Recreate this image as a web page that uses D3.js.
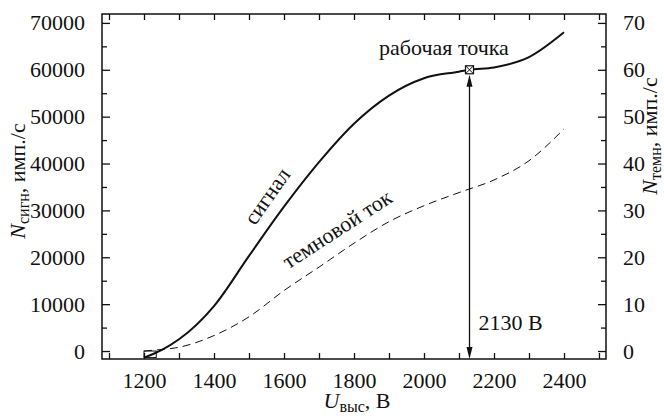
<!DOCTYPE html>
<html>
<head>
<meta charset="utf-8">
<script src="https://cdn.jsdelivr.net/npm/d3@7"></script>
<style>
  body { margin: 0; background: #fff; }
  svg, svg text { font-family: "Liberation Serif", "Tinos", "Times New Roman", "DejaVu Serif", serif; }
</style>
</head>
<body>
<div id="chart"></div>
<script>
// Сигнал (левая ось), имп./с
const sigU = [1200, 1250, 1300, 1400, 1500, 1600, 1700, 1800, 1900, 2000, 2100, 2130, 2200, 2300, 2400];
const sigN = [-1400, 200, 2500, 9600, 20300, 30800, 40300, 48500, 54500, 58200, 59600, 60000, 60500, 62700, 68000];

// Темновой ток (правая ось), имп./с
const darkU = [1200, 1230, 1300, 1400, 1500, 1600, 1700, 1800, 1900, 2000, 2100, 2200, 2300, 2400];
const darkN = [0, 0.2, 0.8, 3.3, 7.3, 12.9, 17.9, 23.0, 27.6, 31.0, 33.8, 36.5, 40.6, 47.4];

// Рабочая точка
const workU = 2130;
const workN = 60000;

const xTicks = d3.range(1100, 2501, 100);
const xLabels = [1200, 1400, 1600, 1800, 2000, 2200, 2400];
const yTicks = d3.range(0, 70001, 5000);
const yLabels = d3.range(0, 70001, 10000);
const y2Labels = d3.range(0, 71, 10);

const width = 664, height = 418;
const margin = { top: 14, right: 58, bottom: 59, left: 102 };
const serif = '"Liberation Serif", "Tinos", "Times New Roman", "DejaVu Serif", serif';

const svg = d3.select('#chart')
    .append('svg')
    .attr('width', width)
    .attr('height', height);

const x = d3.scaleLinear()
    .domain([1080, 2520])
    .range([margin.left, width - margin.right]);

const y = d3.scaleLinear()
    .domain([-1700, 71900])
    .range([height - margin.bottom, margin.top]);

const y2 = d3.scaleLinear()
    .domain([-1.7, 71.9])
    .range([height - margin.bottom, margin.top]);

const fontSize = 22;

// Оси
const styleAxis = g => {
    g.attr('font-family', null).attr('font-size', null);
    g.select('.domain').remove();
    g.selectAll('line').attr('stroke', '#111').attr('stroke-width', 1.3);
    g.selectAll('text').attr('fill', '#111').style('font-size', fontSize + 'px')
        .style('font-family', serif);
};

svg.append('g')
    .attr('transform', `translate(0,${y.range()[0]})`)
    .call(d3.axisBottom(x).tickValues(xTicks).tickSize(-6).tickPadding(13)
        .tickFormat(d => xLabels.includes(d) ? d : ''))
    .call(styleAxis);

svg.append('g')
    .attr('transform', `translate(0,${y.range()[1]})`)
    .call(d3.axisTop(x).tickValues(xTicks).tickSize(-6).tickFormat(''))
    .call(styleAxis);

svg.append('g')
    .attr('transform', `translate(${x.range()[0]},0)`)
    .call(d3.axisLeft(y).tickValues(yTicks).tickPadding(11)
        .tickFormat(d => yLabels.includes(d) ? d : ''))
    .call(styleAxis)
    .call(g => g.selectAll('.tick line')
        .attr('x2', d => yLabels.includes(d) ? 8 : 5));

svg.append('g')
    .attr('transform', `translate(${x.range()[1]},0)`)
    .call(d3.axisRight(y2).tickValues(yTicks.map(d => d / 1000)).tickPadding(11)
        .tickFormat(d => y2Labels.includes(d) ? d : ''))
    .call(styleAxis)
    .call(g => g.selectAll('.tick line')
        .attr('x2', d => y2Labels.includes(d) ? -8 : -5));

// Рамка
svg.append('rect')
    .attr('x', x.range()[0])
    .attr('y', y.range()[1])
    .attr('width', x.range()[1] - x.range()[0])
    .attr('height', y.range()[0] - y.range()[1])
    .attr('fill', 'none')
    .attr('stroke', '#111')
    .attr('stroke-width', 1.5);

// Кривые
const sigData = sigU.map((u, i) => ({ u, n: sigN[i] }));
const darkData = darkU.map((u, i) => ({ u, n: darkN[i] }));

svg.append('path')
    .datum(sigData)
    .attr('fill', 'none')
    .attr('stroke', '#111')
    .attr('stroke-width', 2)
    .attr('d', d3.line().x(d => x(d.u)).y(d => y(d.n)).curve(d3.curveMonotoneX));

svg.append('path')
    .datum(darkData)
    .attr('fill', 'none')
    .attr('stroke', '#111')
    .attr('stroke-width', 1)
    .attr('stroke-dasharray', '8,5')
    .attr('d', d3.line().x(d => x(d.u)).y(d => y2(d.n)).curve(d3.curveMonotoneX));

// Маленький прямоугольник в начале кривой
svg.append('rect')
    .attr('x', x(sigU[0]))
    .attr('y', y(0))
    .attr('width', x(1235) - x(sigU[0]))
    .attr('height', y(sigN[0]) - y(0))
    .attr('fill', 'none')
    .attr('stroke', '#111')
    .attr('stroke-width', 1);

// Стрелка к рабочей точке
const wx = x(workU), wy = y(workN);
const yBot = y.range()[0];
svg.append('line')
    .attr('x1', wx).attr('x2', wx)
    .attr('y1', wy + 10).attr('y2', yBot - 10)
    .attr('stroke', '#111')
    .attr('stroke-width', 1.3);

svg.append('path')
    .attr('d', `M${wx},${wy + 5} L${wx - 3},${wy + 17} L${wx + 3},${wy + 17} Z`)
    .attr('fill', '#111');
svg.append('path')
    .attr('d', `M${wx},${yBot} L${wx - 3},${yBot - 12} L${wx + 3},${yBot - 12} Z`)
    .attr('fill', '#111');

// Маркер рабочей точки
const m = svg.append('g').attr('transform', `translate(${wx},${wy})`);
m.append('rect')
    .attr('x', -4).attr('y', -4).attr('width', 8).attr('height', 8)
    .attr('fill', '#fff').attr('stroke', '#111').attr('stroke-width', 1.2);
m.append('path')
    .attr('d', 'M-4,-4L4,4M4,-4L-4,4')
    .attr('stroke', '#111').attr('stroke-width', 1);

// Подписи
const label = (tx, ty, rot, txt, size) => svg.append('text')
    .attr('transform', `translate(${tx},${ty}) rotate(${rot})`)
    .attr('text-anchor', 'middle')
    .attr('dominant-baseline', 'central')
    .style('font-size', size + 'px')
    .style('font-family', serif)
    .attr('fill', '#111')
    .text(txt);

label(444, 47, 0, 'рабочая точка', 22);
label(267, 196, -55, 'сигнал', 22);
label(337, 229, -33, 'темновой ток', 22);

svg.append('text')
    .attr('x', wx + 9)
    .attr('y', 330)
    .style('font-size', '22px')
    .style('font-family', serif)
    .attr('fill', '#111')
    .text(workU + ' В');

// Подписи осей
const axisTitle = (tx, ty, rot, sub, rest) => {
    const t = svg.append('text')
        .attr('transform', `translate(${tx},${ty}) rotate(${rot})`)
        .attr('text-anchor', 'middle')
        .style('font-size', fontSize + 'px')
        .style('font-family', serif)
        .attr('fill', '#111');
    t.append('tspan').style('font-style', 'italic').text(sub[0]);
    t.append('tspan').attr('dy', 4).style('font-size', '16px').text(sub[1]);
    t.append('tspan').attr('dy', -4).text(rest);
};

axisTitle(357, 408, 0, ['U', 'выс'], ', В');
axisTitle(25, 181, -90, ['N', 'сигн'], ', имп./с');
axisTitle(657, 136, -90, ['N', 'темн'], ', имп./с');
</script>
</body>
</html>
